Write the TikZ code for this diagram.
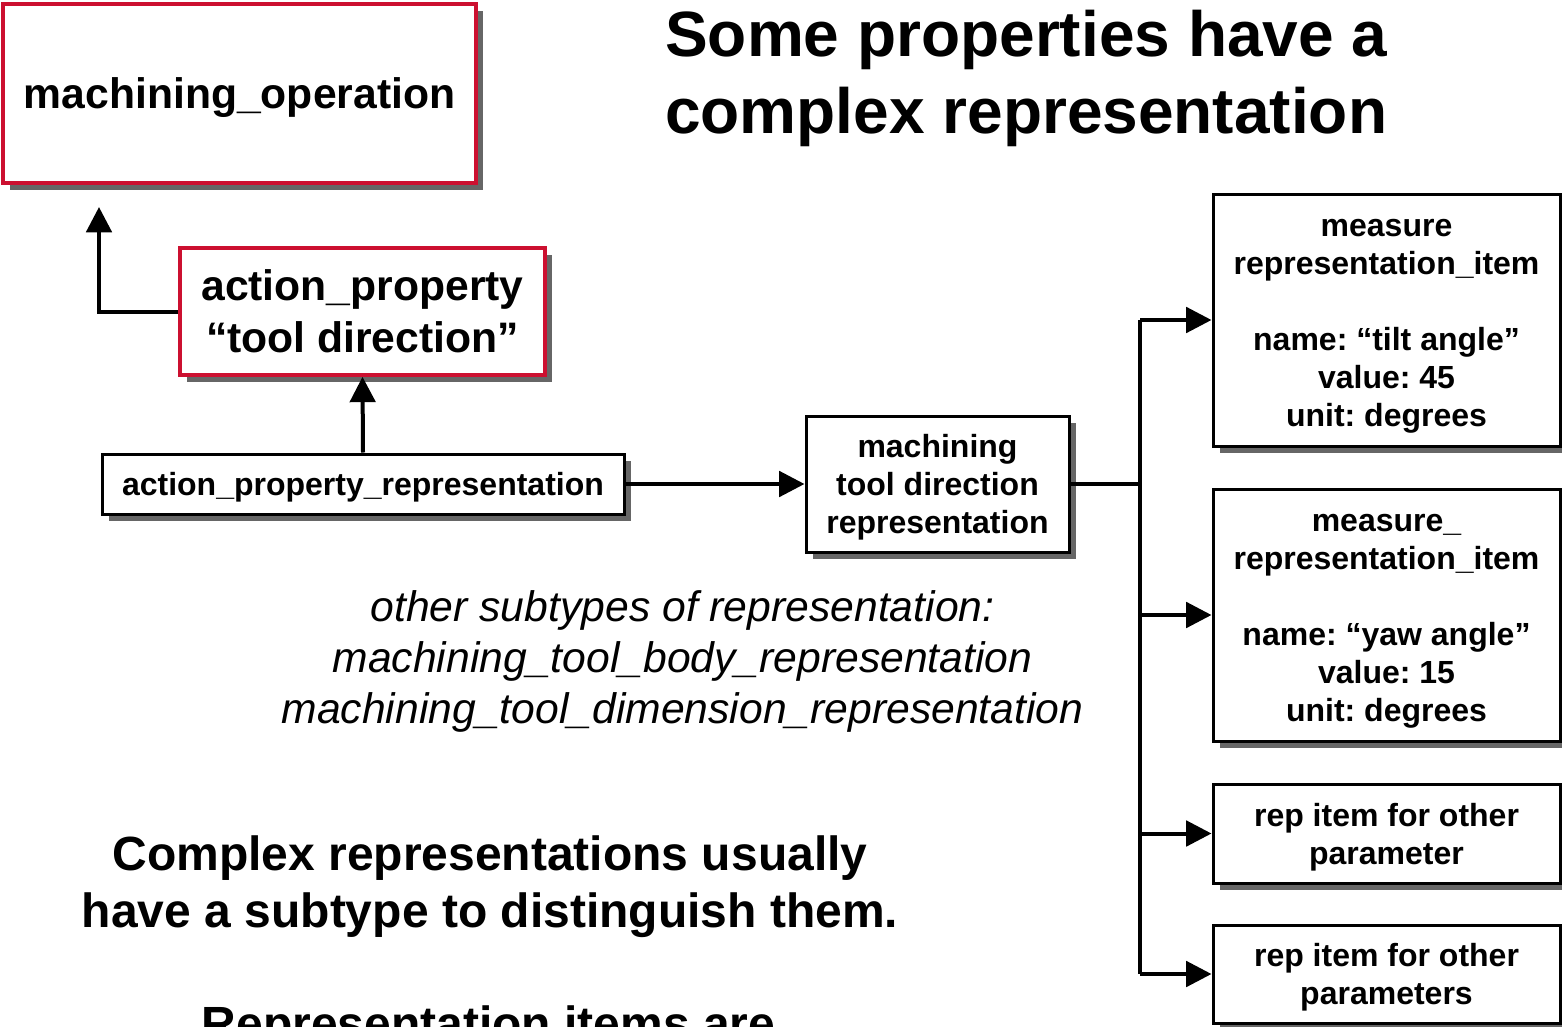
\documentclass[tikz,border=0pt]{standalone}
\usepackage{fontspec}
\setmainfont{Liberation Sans}
\usetikzlibrary{arrows.meta,shadows}
\definecolor{boxred}{RGB}{204,16,48}
\newcommand{\topst}{\rule{0pt}{0.97em}}
\newcommand{\botst}{\rule[-0.25em]{0pt}{0.25em}}
\newcommand{\onest}{\rule[-0.25em]{0pt}{1.22em}}
\frenchspacing
\tikzset{
  shad/.style={drop shadow={shadow xshift=5pt,shadow yshift=-5pt,fill=black!60,opacity=1}},
  redbox/.style={draw=boxred,line width=2.75pt,fill=white,shad,inner sep=0pt,align=center,font=\bfseries\fontsize{32}{39}\selectfont},
  blkbox/.style={draw=black,line width=2.25pt,fill=white,shad,inner sep=0pt,align=center,font=\bfseries\fontsize{24}{28.5}\selectfont},
  conn/.style={line width=3pt},
  tip/.style={-{Triangle[length=19pt,width=19pt]}},
}
\begin{document}
\frenchspacing
\begin{tikzpicture}[x=0.75pt,y=-0.75pt]
\useasboundingbox (0,0) rectangle (1562,1027);

% title
\node[anchor=west,align=left,inner sep=0pt,font=\bfseries\fontsize{48}{57.75}\selectfont] (title) at (665,72) {\topst Some properties have a\\complex representation\botst};

% boxes
\node[redbox,minimum width=354.75pt,minimum height=134.25pt] (mo) at (239.5,93.5) {\onest machining\_operation};
\node[redbox,minimum width=273.75pt,minimum height=95.25pt] (ap) at (362.5,311.5) {\topst action\_property\\``tool direction''\botst};
\node[blkbox,minimum width=391.5pt,minimum height=45pt] (apr) at (363,484) {\onest action\_property\_representation};
\node[blkbox,minimum width=197.25pt,minimum height=102pt] (mtdr) at (937.5,484) {\topst machining\\tool direction\\representation\botst};
\node[blkbox,minimum width=260.25pt,minimum height=189pt] (m1) at (1386.5,320) {\topst measure\\representation\_item\\[28.5pt]name: ``tilt angle''\\value: 45\\unit: degrees\botst};
\node[blkbox,minimum width=260.25pt,minimum height=189pt] (m2) at (1386.5,615) {\topst measure\_\\representation\_item\\[28.5pt]name: ``yaw angle''\\value: 15\\unit: degrees\botst};
\node[blkbox,minimum width=260.25pt,minimum height=74.25pt] (r3) at (1386.5,833.5) {\topst rep item for other\\parameter\botst};
\node[blkbox,minimum width=260.25pt,minimum height=73.5pt] (r4) at (1386.5,974) {\topst rep item for other\\parameters\botst};

% texts
\node[align=center,inner sep=0pt,font=\itshape\fontsize{32}{38.25}\selectfont] (sub) at (682.5,657) {\topst other subtypes of representation:\\machining\_tool\_body\_representation\\machining\_tool\_dimension\_representation\botst};
\node[align=center,inner sep=0pt,font=\bfseries\fontsize{36}{43}\selectfont] (cx) at (490,881.5) {\topst Complex representations usually\\have a subtype to distinguish them.\botst};
\node[anchor=base,inner sep=0pt,font=\bfseries\fontsize{36}{43}\selectfont] (ri) at (488.5,1040) {Representation items are};

% connectors
\coordinate (moT) at (99,207);
\draw[conn,tip] (ap.west) -| (moT);
\draw[conn,tip] (apr.north) -- (ap.south);
\draw[conn,tip] (apr.east) -- (mtdr.west);
\coordinate (bx) at (1140,484);
\draw[conn] (mtdr.east) -- (bx);
\draw[conn] (bx |- m1.west) -- (bx |- r4.west);
\draw[conn,tip] (bx |- m1.west) -- (m1.west);
\draw[conn,tip] (bx |- m2.west) -- (m2.west);
\draw[conn,tip] (bx |- r3.west) -- (r3.west);
\draw[conn,tip] (bx |- r4.west) -- (r4.west);
\end{tikzpicture}
\end{document}
